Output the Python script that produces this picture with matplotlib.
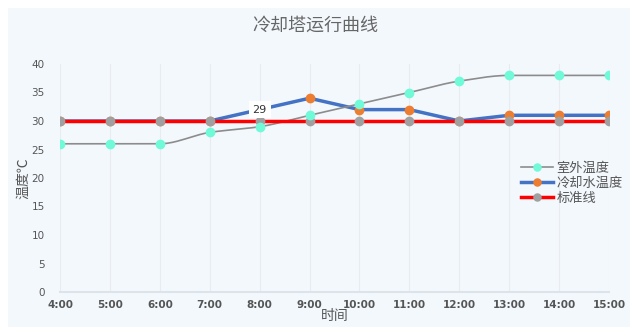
import numpy as np
import matplotlib.pyplot as plt
from matplotlib.patches import Rectangle

plt.rcParams['font.family'] = ['Noto Sans CJK SC', 'DejaVu Sans']

# data
hours = ["4:00", "5:00", "6:00", "7:00", "8:00", "9:00", "10:00",
         "11:00", "12:00", "13:00", "14:00", "15:00"]
outdoor = [26, 26, 26, 28, 29, 31, 33, 35, 37, 38, 38, 38]
cooling = [30, 30, 30, 30, 32, 34, 32, 32, 30, 31, 31, 31]
standard = [30, 30, 30, 30, 30, 30, 30, 30, 30, 30, 30, 30]
label_idx = 4
label_text = "29"

x = np.arange(len(hours))


def smooth(xs, ys, n=20):
    # monotone cubic hermite, only for drawing a smooth line
    xs = np.asarray(xs, float)
    ys = np.asarray(ys, float)
    d = np.diff(ys) / np.diff(xs)
    m = np.zeros_like(ys)
    m[0], m[-1] = d[0], d[-1]
    for i in range(1, len(ys) - 1):
        if d[i - 1] * d[i] > 0:
            m[i] = 2 / (1 / d[i - 1] + 1 / d[i])
    px, py = [], []
    for i in range(len(xs) - 1):
        h = xs[i + 1] - xs[i]
        t = np.linspace(0, 1, n, endpoint=False)
        h00 = 2 * t**3 - 3 * t**2 + 1
        h10 = t**3 - 2 * t**2 + t
        h01 = -2 * t**3 + 3 * t**2
        h11 = t**3 - t**2
        px.extend(xs[i] + t * h)
        py.extend(h00 * ys[i] + h10 * h * m[i] + h01 * ys[i + 1] + h11 * h * m[i + 1])
    px.append(xs[-1])
    py.append(ys[-1])
    return px, py


fig = plt.figure(figsize=(6.3, 3.27), dpi=100)
bg = Rectangle((8 / 630, 0), 1, 1 - 8 / 327, transform=fig.transFigure,
               facecolor='#F3F8FD', edgecolor='none', zorder=-10)
fig.patches.append(bg)
ax = fig.add_axes([60 / 630, 1 - 292 / 327, 549 / 630, 228 / 327])
ax.set_facecolor('none')

ms = 6
sx, sy = smooth(x, outdoor)
ax.plot(sx, sy, color='#8C8C8C', lw=1.2, zorder=3)
ax.plot(x, outdoor, ls='none', marker='o', ms=ms, color='#70FAD8', zorder=6)
ax.plot([], [], color='#8C8C8C', lw=1.2, marker='o', ms=ms, mfc='#70FAD8', mec='#70FAD8', label='室外温度')

ax.plot(x, cooling, color='#4472C4', lw=2.5, zorder=2, marker='o', ms=ms,
        mfc='#ED7D31', mec='#ED7D31', label='冷却水温度')
ax.plot(x, standard, color='#FF0000', lw=2.5, zorder=4, marker='o', ms=ms,
        mfc='#A0A0A0', mec='#A0A0A0', label='标准线')

ax.text(x[label_idx], cooling[label_idx], label_text, ha='center', va='center',
        fontsize=8, family='DejaVu Sans', color='#333333', zorder=7,
        bbox=dict(boxstyle='square,pad=0.35', fc='white', ec='none'))

ax.set_xlim(0, len(hours) - 1)
ax.set_ylim(0, 40)
ax.set_xticks(x)
ax.set_xticklabels(hours)
ax.set_yticks(range(0, 41, 5))
ax.tick_params(length=0, labelsize=7.5, colors='#555555', pad=6)
ax.tick_params(axis='y', pad=11)
for lab in ax.get_xticklabels() + ax.get_yticklabels():
    lab.set_family('DejaVu Sans')
for lab in ax.get_xticklabels():
    lab.set_fontweight('bold')
ax.grid(axis='x', color='#E8ECF0', lw=0.8)
for s in ['top', 'right', 'left']:
    ax.spines[s].set_visible(False)
ax.spines['bottom'].set_color('#DDE3EA')
ax.spines['bottom'].set_linewidth(1.5)

ax.set_xlabel('时间', fontsize=10, color='#555555', labelpad=-1)
ax.set_ylabel('温度℃', fontsize=10, color='#555555', labelpad=1)
fig.suptitle('冷却塔运行曲线', x=0.5, y=1 - 26 / 327, va='center', fontsize=13, color='#666666')

ax.legend(loc='upper left', bbox_to_anchor=(0.83, 0.595), frameon=False, fontsize=9.5,
          labelcolor='#555555', handlelength=2.4, handletextpad=0.3, labelspacing=0.15,
          borderaxespad=0, markerscale=0.85)

fig.savefig('out.png', dpi=100)
